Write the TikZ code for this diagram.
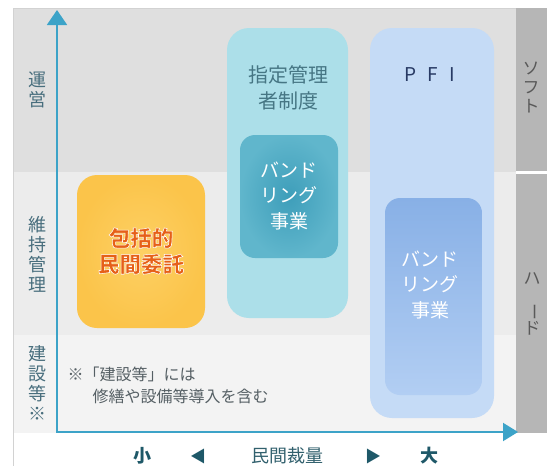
\documentclass[tikz,border=0pt]{standalone}
\usepackage{fontspec}
\setmainfont{Noto Sans CJK JP}
\usepackage{graphicx}
\usetikzlibrary{arrows.meta}
\newcommand{\halotext}[1]{\special{pdf:literal direct 2 Tr 0.55 w 1 1 1 RG}#1\special{pdf:literal direct 0 Tr}}
\definecolor{bandtop}{RGB}{223,223,223}
\definecolor{bandmid}{RGB}{236,236,236}
\definecolor{bandbot}{RGB}{243,243,243}
\definecolor{framec}{RGB}{210,210,210}
\definecolor{axisc}{RGB}{60,163,200}
\definecolor{rightc}{RGB}{182,182,182}
\definecolor{labc}{RGB}{72,110,125}
\definecolor{orin}{RGB}{253,208,100}
\definecolor{orout}{RGB}{251,196,74}
\definecolor{ortext}{RGB}{230,96,24}
\definecolor{cyanc}{RGB}{172,223,233}
\definecolor{cyantext}{RGB}{70,118,132}
\definecolor{tealin}{RGB}{62,158,186}
\definecolor{tealout}{RGB}{96,182,204}
\definecolor{pfic}{RGB}{197,219,246}
\definecolor{pfitext}{RGB}{40,58,100}
\definecolor{bluetop}{RGB}{136,176,230}
\definecolor{bluebot}{RGB}{178,206,243}
\definecolor{notec}{RGB}{85,95,100}
\definecolor{darkteal}{RGB}{30,88,104}
\tikzset{
  boxbase/.style={rounded corners=20pt, inner sep=0pt, draw=none},
  vlabel/.style={align=center, text=labc, font=\fontsize{18}{20}\selectfont},
  rlabel/.style={align=center, text=black!65, font=\fontsize{17}{19}\selectfont},
  whitetext/.style={align=center, text=white, font=\fontsize{19}{25.5}\selectfont},
  notetext/.style={anchor=west, text=notec, font=\fontsize{16}{18}\selectfont},
  axisline/.style={draw=axisc, line width=2pt},
}
\begin{document}
\begin{tikzpicture}[x=1pt,y=-1pt]
\useasboundingbox (0,0) rectangle (547,466);
% background bands
\fill[white] (0,0) rectangle (547,466);
\fill[bandtop] (13,8) rectangle (516,172);
\fill[bandmid] (13,172) rectangle (516,335);
\fill[bandbot] (13,335) rectangle (516,433);
\draw[framec, line width=0.8pt] (547,8) -- (13,8) -- (13,466);
% right column
\fill[rightc] (516,8) rectangle (547,171);
\fill[rightc] (516,173.5) rectangle (547,433);
\node[rlabel] (soft) at (531,88) {ソ\\フ\\ト};
\node[rlabel] (hard) at (532,304) {ハ\\\rotatebox{-90}{ー}\\ド};
% left labels
\node[vlabel] (unei) at (37,90) {運\\営};
\node[vlabel] (iji) at (37,254) {維\\持\\管\\理};
\node[vlabel] (kensetsu) at (37,383) {建\\設\\等\\※};
% boxes
\node[boxbase, shading=radial, inner color=orin, outer color=orout,
      minimum width=128pt, minimum height=153pt] (orange) at (141,251.5) {};
\node[align=center, text=ortext, font=\bfseries\fontsize{21.5}{26}\selectfont] (hokatsu) at (141,251)
  {\halotext{包括的}\\\halotext{民間委託}};
\node[boxbase, rounded corners=22pt, fill=cyanc,
      minimum width=121pt, minimum height=290pt] (shitei) at (287.5,173) {};
\node[align=center, text=cyantext, font=\fontsize{20}{26}\selectfont] (shiteitext) at (288,88) {指定管理\\者制度};
\node[boxbase, rounded corners=15pt, shading=radial, inner color=tealin, outer color=tealout,
      minimum width=98pt, minimum height=123pt] (teal) at (289,196.5) {};
\node[whitetext] (tealtext) at (289,196) {バンド\\リング\\事業};
\node[boxbase, rounded corners=22pt, fill=pfic,
      minimum width=124pt, minimum height=390pt] (pfi) at (432,223) {};
\node[text=pfitext, font=\fontsize{19}{20}\selectfont] (pfitext) at (430,75) {P\hspace{11pt}F\hspace{11pt}I};
\node[boxbase, rounded corners=15pt, top color=bluetop, bottom color=bluebot,
      minimum width=97pt, minimum height=197pt] (blue) at (433.5,296.5) {};
\node[whitetext] (bluetext) at (430,285) {バンド\\リング\\事業};
% note
\node[notetext] (note1) at (64,374) {※「建設等」には};
\node[notetext] (note2) at (89,396) {修繕や設備等導入を含む};
% axes
\coordinate (origin) at (57,432);
\coordinate (ytip) at (57,10);
\coordinate (xtip) at (518,432);
\draw[axisline, -{Triangle[length=15pt,width=20pt]}] (origin) -- (ytip);
\draw[axisline, -{Triangle[length=15pt,width=18pt]}] (56,432) -- (xtip);
% bottom labels
\node[text=darkteal, font=\bfseries\fontsize{18}{20}\selectfont] (small) at (142,456) {小};
\node[text=darkteal, font=\fontsize{16}{20}\selectfont] (larr) at (198,456) {◀};
\node[text=darkteal!80!gray, font=\fontsize{18}{20}\selectfont] (minkan) at (287,456) {民間裁量};
\node[text=darkteal, font=\fontsize{16}{20}\selectfont] (rarr) at (373,456) {▶};
\node[text=darkteal, font=\bfseries\fontsize{18}{20}\selectfont] (big) at (429,456) {大};
\end{tikzpicture}
\end{document}
